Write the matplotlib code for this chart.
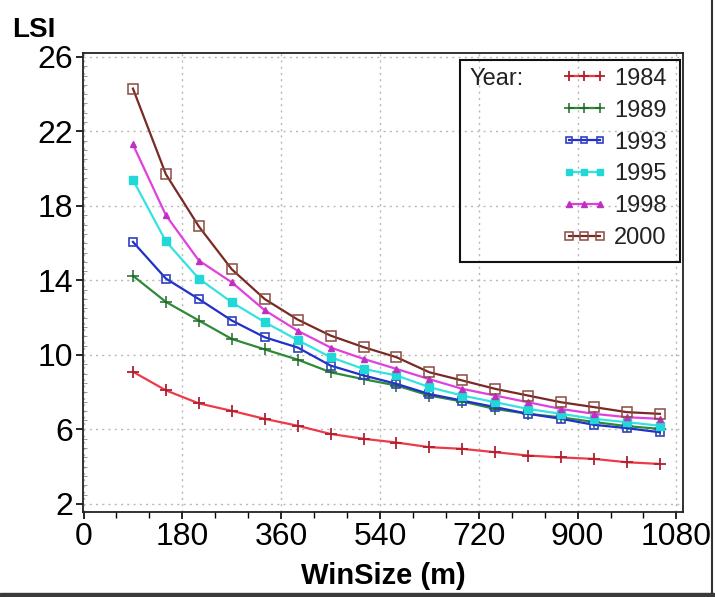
import matplotlib
matplotlib.use("Agg")
import matplotlib.pyplot as plt
from matplotlib.patches import Rectangle
from matplotlib.lines import Line2D
from matplotlib.ticker import MultipleLocator

plt.rcParams['font.family'] = ['Liberation Sans', 'DejaVu Sans']

win_size = [90, 150, 210, 270, 330, 390, 450, 510, 570, 630, 690, 750, 810, 870, 930, 990, 1050]

lsi_1984 = [9.1, 8.1, 7.4, 7.0, 6.57, 6.2, 5.76, 5.5, 5.3, 5.05, 4.96, 4.78, 4.6, 4.5, 4.42, 4.24, 4.15]
lsi_1989 = [14.25, 12.85, 11.85, 10.86, 10.3, 9.75, 9.07, 8.7, 8.36, 7.82, 7.5, 7.1, 6.84, 6.65, 6.4, 6.18, 6.03]
lsi_1993 = [16.07, 14.1, 13.0, 11.85, 10.95, 10.4, 9.43, 8.9, 8.45, 7.9, 7.55, 7.2, 6.84, 6.57, 6.25, 6.07, 5.85]
lsi_1995 = [19.4, 16.1, 14.1, 12.83, 11.76, 10.8, 9.88, 9.25, 8.9, 8.27, 7.82, 7.46, 7.1, 6.84, 6.57, 6.39, 6.2]
lsi_1998 = [21.3, 17.5, 15.07, 13.9, 12.4, 11.3, 10.4, 9.79, 9.25, 8.7, 8.18, 7.82, 7.46, 7.1, 6.84, 6.66, 6.57]
lsi_2000 = [24.3, 19.7, 16.9, 14.6, 13.0, 11.9, 11.04, 10.42, 9.88, 9.07, 8.63, 8.18, 7.82, 7.46, 7.2, 6.93, 6.84]

years = ['1984', '1989', '1993', '1995', '1998', '2000']
x_ticks = [0, 180, 360, 540, 720, 900, 1080]
y_ticks = [2, 6, 10, 14, 18, 22, 26]

W, H = 715, 597
fig = plt.figure(figsize=(W / 100, H / 100), dpi=100)
fig.patch.set_facecolor('white')
ax = fig.add_axes([83 / W, 1 - 512 / H, (683 - 83) / W, (512 - 53) / H])

series = [lsi_1984, lsi_1989, lsi_1993, lsi_1995, lsi_1998, lsi_2000]
styles = [
    dict(color='#ee3a48', marker='+', ms=9, mew=1.3, mec='#b02030'),
    dict(color='#2e8b35', marker='+', ms=9, mew=1.1, mec='#1f6a28'),
    dict(color='#2030c8', marker='s', ms=6, mew=1.2, mfc='none', mec='#3040c0'),
    dict(color='#35e2e0', marker='s', ms=6, mew=1.0, mfc='#20d8d8', mec='#20d8d8'),
    dict(color='#e040e0', marker='^', ms=5, mew=1.0, mfc='#c030c0', mec='#c030c0'),
    dict(color='#7a2a24', marker='s', ms=7, mew=1.1, mfc='none', mec='#8a4a40'),
]
handles = []
for yr, vals, st in zip(years, series, styles):
    h, = ax.plot(win_size, vals, lw=1.6, label=yr, **st)
    handles.append(h)

ax.set_xlim(-1, 1092)
ax.set_ylim(1.57, 26.21)
ax.set_xticks(x_ticks)
ax.set_yticks(y_ticks)
ax.xaxis.set_minor_locator(MultipleLocator(60))
ax.yaxis.set_minor_locator(MultipleLocator(0.5))
ax.tick_params(axis='both', which='major', direction='out', length=5, width=1.2,
               labelsize=23, pad=2, colors='black')
ax.tick_params(axis='x', which='minor', direction='out', length=4, width=1.0)
ax.tick_params(axis='y', which='minor', direction='in', length=3, width=0.6, color='#888888')
for s in ax.spines.values():
    s.set_linewidth(1.3)
    s.set_color('#222222')
ax.grid(True, which='major', linestyle=(0, (1.5, 3)), color='#b8b8b8', lw=1.0)

# y label at top-left
fig.text(12 / W, 1 - 37 / H, 'LSI', fontsize=20, fontweight='bold', ha='left', va='baseline')
# x label
fig.text(383 / W, 1 - 584 / H, 'WinSize (m)', fontsize=21, fontweight='bold', ha='center', va='baseline')

# legend
leg = ax.legend(handles=handles, loc='upper right', bbox_to_anchor=(1.0 - 12 / 600, 1 - 10 / 459),
                frameon=False, fontsize=17, handlelength=1.9, handletextpad=0.3,
                labelspacing=0.42, borderpad=0.2, borderaxespad=0.0, numpoints=3, markerscale=0.8)
for t in leg.get_texts():
    t.set_color('#222222')
ax.add_patch(Rectangle((460 / W, 1 - 262 / H), (680 - 460) / W, (262 - 60) / H,
                       transform=fig.transFigure, fill=False, ec='#111111', lw=1.5, zorder=5))
fig.text(470 / W, 1 - 85 / H, 'Year:', fontsize=17, color='#222222', ha='left', va='baseline')

# dark frame pieces of the screenshot
fig.add_artist(Rectangle((0, 0), 1, 4 / H, transform=fig.transFigure, color='#3a3a3a', zorder=10))
fig.add_artist(Line2D([712 / W, 712 / W], [4 / H, 1], transform=fig.transFigure, color='#333333', lw=1.5, zorder=10))

fig.savefig('out.png', dpi=100, facecolor='white')
